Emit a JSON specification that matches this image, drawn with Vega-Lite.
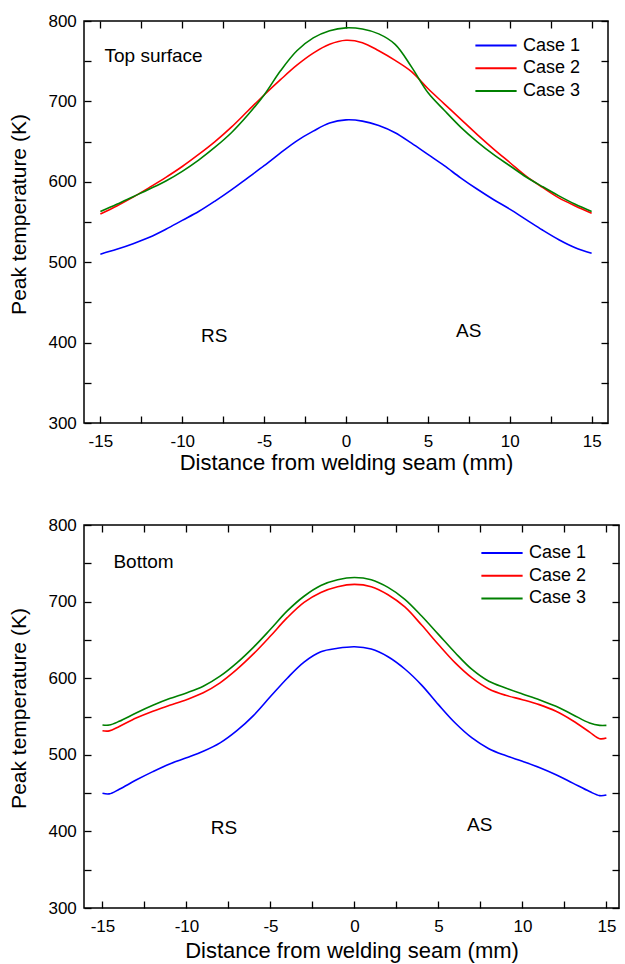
{
  "$schema": "https://vega.github.io/schema/vega-lite/v6.json",
  "padding": {"left": 8, "top": 11, "right": 0, "bottom": 0},
  "spacing": 40,
  "config": {
    "font": "Liberation Sans",
    "view": {"stroke": "black", "strokeWidth": 1.5},
    "axis": {"grid": false, "domain": false, "labelFont": "Liberation Sans", "labelFontSize": 17, "labelColor": "black", "titleFont": "Liberation Sans", "titleFontWeight": "normal", "titleColor": "black", "tickColor": "black", "tickWidth": 1.3, "tickSize": -7, "labelFlush": false, "labelOverlap": false},
    "legend": {"orient": "none", "symbolType": "stroke", "symbolStrokeWidth": 2, "symbolSize": 1700, "labelFont": "Liberation Sans", "labelFontSize": 18, "labelColor": "black", "clipHeight": 19, "rowPadding": 3.7, "padding": 0, "labelOffset": 5, "title": null},
    "text": {"font": "Liberation Sans", "fontSize": 19, "color": "black"}
  },
  "resolve": {"scale": {"color": "independent"}, "legend": {"color": "independent"}},
  "datasets": {
    "top": [
      {"x": -15, "T": 510, "series": "Case 1"}, {"x": -14, "T": 516, "series": "Case 1"}, {"x": -13, "T": 523, "series": "Case 1"}, {"x": -12, "T": 531, "series": "Case 1"}, {"x": -11, "T": 541, "series": "Case 1"}, {"x": -10, "T": 552, "series": "Case 1"}, {"x": -9, "T": 563, "series": "Case 1"}, {"x": -8, "T": 576, "series": "Case 1"}, {"x": -7, "T": 590, "series": "Case 1"}, {"x": -6, "T": 605, "series": "Case 1"}, {"x": -5, "T": 620, "series": "Case 1"}, {"x": -4, "T": 636, "series": "Case 1"}, {"x": -3, "T": 651, "series": "Case 1"}, {"x": -2, "T": 663, "series": "Case 1"}, {"x": -1, "T": 673, "series": "Case 1"}, {"x": 0, "T": 677, "series": "Case 1"}, {"x": 1, "T": 675.5, "series": "Case 1"}, {"x": 2, "T": 670, "series": "Case 1"}, {"x": 3, "T": 661, "series": "Case 1"}, {"x": 4, "T": 648, "series": "Case 1"}, {"x": 5, "T": 634, "series": "Case 1"}, {"x": 6, "T": 620, "series": "Case 1"}, {"x": 7, "T": 605, "series": "Case 1"}, {"x": 8, "T": 591, "series": "Case 1"}, {"x": 9, "T": 578, "series": "Case 1"}, {"x": 10, "T": 566, "series": "Case 1"}, {"x": 11, "T": 553, "series": "Case 1"}, {"x": 12, "T": 540, "series": "Case 1"}, {"x": 13, "T": 528, "series": "Case 1"}, {"x": 14, "T": 518, "series": "Case 1"}, {"x": 15, "T": 511, "series": "Case 1"},
      {"x": -15, "T": 560, "series": "Case 2"}, {"x": -14, "T": 570, "series": "Case 2"}, {"x": -13, "T": 581, "series": "Case 2"}, {"x": -12, "T": 593, "series": "Case 2"}, {"x": -11, "T": 605.5, "series": "Case 2"}, {"x": -10, "T": 619, "series": "Case 2"}, {"x": -9, "T": 634, "series": "Case 2"}, {"x": -8, "T": 650, "series": "Case 2"}, {"x": -7, "T": 668, "series": "Case 2"}, {"x": -6, "T": 688, "series": "Case 2"}, {"x": -5, "T": 708, "series": "Case 2"}, {"x": -4, "T": 727, "series": "Case 2"}, {"x": -3, "T": 745, "series": "Case 2"}, {"x": -2, "T": 760, "series": "Case 2"}, {"x": -1, "T": 771, "series": "Case 2"}, {"x": 0, "T": 776, "series": "Case 2"}, {"x": 1, "T": 773, "series": "Case 2"}, {"x": 2, "T": 763, "series": "Case 2"}, {"x": 3, "T": 751, "series": "Case 2"}, {"x": 4, "T": 737, "series": "Case 2"}, {"x": 5, "T": 716, "series": "Case 2"}, {"x": 6, "T": 697, "series": "Case 2"}, {"x": 7, "T": 678, "series": "Case 2"}, {"x": 8, "T": 659, "series": "Case 2"}, {"x": 9, "T": 641, "series": "Case 2"}, {"x": 10, "T": 624, "series": "Case 2"}, {"x": 11, "T": 607, "series": "Case 2"}, {"x": 12, "T": 593, "series": "Case 2"}, {"x": 13, "T": 580, "series": "Case 2"}, {"x": 14, "T": 570, "series": "Case 2"}, {"x": 15, "T": 561, "series": "Case 2"},
      {"x": -15, "T": 563, "series": "Case 3"}, {"x": -14, "T": 572, "series": "Case 3"}, {"x": -13, "T": 581.5, "series": "Case 3"}, {"x": -12, "T": 591, "series": "Case 3"}, {"x": -11, "T": 601, "series": "Case 3"}, {"x": -10, "T": 613, "series": "Case 3"}, {"x": -9, "T": 627, "series": "Case 3"}, {"x": -8, "T": 643, "series": "Case 3"}, {"x": -7, "T": 661, "series": "Case 3"}, {"x": -6, "T": 683, "series": "Case 3"}, {"x": -5, "T": 708, "series": "Case 3"}, {"x": -4, "T": 738, "series": "Case 3"}, {"x": -3, "T": 763, "series": "Case 3"}, {"x": -2, "T": 779, "series": "Case 3"}, {"x": -1, "T": 788, "series": "Case 3"}, {"x": 0, "T": 791.5, "series": "Case 3"}, {"x": 1, "T": 790, "series": "Case 3"}, {"x": 2, "T": 784, "series": "Case 3"}, {"x": 3, "T": 771, "series": "Case 3"}, {"x": 4, "T": 743, "series": "Case 3"}, {"x": 5, "T": 711, "series": "Case 3"}, {"x": 6, "T": 689, "series": "Case 3"}, {"x": 7, "T": 668, "series": "Case 3"}, {"x": 8, "T": 650, "series": "Case 3"}, {"x": 9, "T": 634, "series": "Case 3"}, {"x": 10, "T": 620, "series": "Case 3"}, {"x": 11, "T": 606, "series": "Case 3"}, {"x": 12, "T": 594, "series": "Case 3"}, {"x": 13, "T": 582.5, "series": "Case 3"}, {"x": 14, "T": 572, "series": "Case 3"}, {"x": 15, "T": 563, "series": "Case 3"}
    ],
    "bottom": [
      {"x": -15, "T": 449.8, "series": "Case 1"}, {"x": -14.6, "T": 449, "series": "Case 1"}, {"x": -14, "T": 455, "series": "Case 1"}, {"x": -13, "T": 467, "series": "Case 1"}, {"x": -12, "T": 478, "series": "Case 1"}, {"x": -11, "T": 488, "series": "Case 1"}, {"x": -10, "T": 496, "series": "Case 1"}, {"x": -9, "T": 504.5, "series": "Case 1"}, {"x": -8, "T": 515.5, "series": "Case 1"}, {"x": -7, "T": 531.5, "series": "Case 1"}, {"x": -6, "T": 551.5, "series": "Case 1"}, {"x": -5, "T": 576, "series": "Case 1"}, {"x": -4, "T": 600, "series": "Case 1"}, {"x": -3, "T": 621, "series": "Case 1"}, {"x": -2, "T": 634.5, "series": "Case 1"}, {"x": -1, "T": 639, "series": "Case 1"}, {"x": 0, "T": 641, "series": "Case 1"}, {"x": 1, "T": 638, "series": "Case 1"}, {"x": 2, "T": 628, "series": "Case 1"}, {"x": 3, "T": 612, "series": "Case 1"}, {"x": 4, "T": 591, "series": "Case 1"}, {"x": 5, "T": 565.5, "series": "Case 1"}, {"x": 6, "T": 541.5, "series": "Case 1"}, {"x": 7, "T": 522, "series": "Case 1"}, {"x": 8, "T": 508, "series": "Case 1"}, {"x": 9, "T": 499, "series": "Case 1"}, {"x": 10, "T": 491.5, "series": "Case 1"}, {"x": 11, "T": 483.5, "series": "Case 1"}, {"x": 12, "T": 474, "series": "Case 1"}, {"x": 13, "T": 463, "series": "Case 1"}, {"x": 14, "T": 452, "series": "Case 1"}, {"x": 14.6, "T": 446.7, "series": "Case 1"}, {"x": 15, "T": 447.5, "series": "Case 1"},
      {"x": -15, "T": 531.4, "series": "Case 2"}, {"x": -14.6, "T": 531.2, "series": "Case 2"}, {"x": -14, "T": 537, "series": "Case 2"}, {"x": -13, "T": 548, "series": "Case 2"}, {"x": -12, "T": 557, "series": "Case 2"}, {"x": -11, "T": 564.6, "series": "Case 2"}, {"x": -10, "T": 572, "series": "Case 2"}, {"x": -9, "T": 581, "series": "Case 2"}, {"x": -8, "T": 594, "series": "Case 2"}, {"x": -7, "T": 611.5, "series": "Case 2"}, {"x": -6, "T": 632, "series": "Case 2"}, {"x": -5, "T": 655, "series": "Case 2"}, {"x": -4, "T": 679, "series": "Case 2"}, {"x": -3, "T": 699, "series": "Case 2"}, {"x": -2, "T": 712, "series": "Case 2"}, {"x": -1, "T": 719.5, "series": "Case 2"}, {"x": 0, "T": 722.5, "series": "Case 2"}, {"x": 1, "T": 719.5, "series": "Case 2"}, {"x": 2, "T": 709, "series": "Case 2"}, {"x": 3, "T": 693, "series": "Case 2"}, {"x": 4, "T": 669.4, "series": "Case 2"}, {"x": 5, "T": 644, "series": "Case 2"}, {"x": 6, "T": 620, "series": "Case 2"}, {"x": 7, "T": 600.4, "series": "Case 2"}, {"x": 8, "T": 586, "series": "Case 2"}, {"x": 9, "T": 577.7, "series": "Case 2"}, {"x": 10, "T": 572, "series": "Case 2"}, {"x": 11, "T": 565.5, "series": "Case 2"}, {"x": 12, "T": 556.8, "series": "Case 2"}, {"x": 13, "T": 544.5, "series": "Case 2"}, {"x": 14, "T": 529.7, "series": "Case 2"}, {"x": 14.6, "T": 521, "series": "Case 2"}, {"x": 15, "T": 521.8, "series": "Case 2"},
      {"x": -15, "T": 539, "series": "Case 3"}, {"x": -14.6, "T": 538.8, "series": "Case 3"}, {"x": -14, "T": 543.7, "series": "Case 3"}, {"x": -13, "T": 554.6, "series": "Case 3"}, {"x": -12, "T": 564.6, "series": "Case 3"}, {"x": -11, "T": 573.4, "series": "Case 3"}, {"x": -10, "T": 580.8, "series": "Case 3"}, {"x": -9, "T": 589.5, "series": "Case 3"}, {"x": -8, "T": 602.6, "series": "Case 3"}, {"x": -7, "T": 620, "series": "Case 3"}, {"x": -6, "T": 640.6, "series": "Case 3"}, {"x": -5, "T": 663.8, "series": "Case 3"}, {"x": -4, "T": 687.8, "series": "Case 3"}, {"x": -3, "T": 707, "series": "Case 3"}, {"x": -2, "T": 721, "series": "Case 3"}, {"x": -1, "T": 728.5, "series": "Case 3"}, {"x": 0, "T": 731.4, "series": "Case 3"}, {"x": 1, "T": 728.5, "series": "Case 3"}, {"x": 2, "T": 718.5, "series": "Case 3"}, {"x": 3, "T": 703, "series": "Case 3"}, {"x": 4, "T": 681.2, "series": "Case 3"}, {"x": 5, "T": 657.2, "series": "Case 3"}, {"x": 6, "T": 633.2, "series": "Case 3"}, {"x": 7, "T": 611.4, "series": "Case 3"}, {"x": 8, "T": 596, "series": "Case 3"}, {"x": 9, "T": 587.3, "series": "Case 3"}, {"x": 10, "T": 579.5, "series": "Case 3"}, {"x": 11, "T": 572, "series": "Case 3"}, {"x": 12, "T": 563.3, "series": "Case 3"}, {"x": 13, "T": 552.4, "series": "Case 3"}, {"x": 14, "T": 541.5, "series": "Case 3"}, {"x": 14.6, "T": 538.4, "series": "Case 3"}, {"x": 15, "T": 538.4, "series": "Case 3"}
    ],
    "topLabels": [
      {"x": -14.75, "y": 756, "label": "Top surface"},
      {"x": -8.85, "y": 408, "label": "RS"},
      {"x": 6.72, "y": 414, "label": "AS"}
    ],
    "bottomLabels": [
      {"x": -14.35, "y": 752, "label": "Bottom"},
      {"x": -8.55, "y": 405, "label": "RS"},
      {"x": 6.7, "y": 408, "label": "AS"}
    ]
  },
  "vconcat": [
    {
      "width": 524,
      "height": 402,
      "layer": [
        {
          "data": {"name": "top"},
          "mark": {"type": "line", "interpolate": "catmull-rom", "strokeWidth": 1.6},
          "encoding": {
            "x": {"field": "x", "type": "quantitative", "scale": {"domain": [-16, 16], "nice": false, "zero": false},
              "axis": {"orient": "bottom", "values": [-15, -12.5, -10, -7.5, -5, -2.5, 0, 2.5, 5, 7.5, 10, 12.5, 15], "labelExpr": "datum.value % 5 === 0 ? '' + datum.value : ''", "encoding": {"ticks": {"y2": {"signal": "datum.value % 5 === 0 ? -7 : -3.5"}}}, "labelPadding": 17.5, "title": "Distance from welding seam (mm)", "titleFontSize": 22, "titlePadding": 3}},
            "y": {"field": "T", "type": "quantitative", "scale": {"domain": [300, 800], "nice": false, "zero": false},
              "axis": {"orient": "left", "values": [300, 350, 400, 450, 500, 550, 600, 650, 700, 750, 800], "labelExpr": "datum.value % 100 === 0 ? '' + datum.value : ''", "encoding": {"ticks": {"x2": {"signal": "datum.value % 100 === 0 ? 7 : 3.5"}}}, "labelPadding": 14.7, "title": "Peak temperature (K)", "titleFontSize": 21, "titlePadding": 18, "titleY": 193}},
            "color": {"field": "series", "type": "nominal", "scale": {"domain": ["Case 1", "Case 2", "Case 3"], "range": ["#0000ff", "#ff0000", "#008000"]},
              "legend": {"legendX": 390, "legendY": 15}}
          }
        },
        {
          "data": {"name": "topLabels"},
          "mark": {"type": "text", "baseline": "middle", "align": "left"},
          "encoding": {
            "x": {"field": "x", "type": "quantitative", "scale": {"domain": [-16, 16], "nice": false, "zero": false},
              "axis": {"orient": "top", "values": [-15, -12.5, -10, -7.5, -5, -2.5, 0, 2.5, 5, 7.5, 10, 12.5, 15], "labels": false, "encoding": {"ticks": {"y2": {"signal": "datum.value % 5 === 0 ? 7 : 3.5"}}}, "title": null}},
            "y": {"field": "y", "type": "quantitative", "scale": {"domain": [300, 800], "nice": false, "zero": false},
              "axis": {"orient": "right", "values": [300, 350, 400, 450, 500, 550, 600, 650, 700, 750, 800], "labels": false, "encoding": {"ticks": {"x2": {"signal": "datum.value % 100 === 0 ? -7 : -3.5"}}}, "title": null}},
            "text": {"field": "label"}
          }
        }
      ],
      "resolve": {"axis": {"x": "independent", "y": "independent"}}
    },
    {
      "width": 535,
      "height": 383,
      "layer": [
        {
          "data": {"name": "bottom"},
          "mark": {"type": "line", "interpolate": "catmull-rom", "strokeWidth": 1.6},
          "encoding": {
            "x": {"field": "x", "type": "quantitative", "scale": {"domain": [-16.1, 15.75], "nice": false, "zero": false},
              "axis": {"orient": "bottom", "values": [-15, -12.5, -10, -7.5, -5, -2.5, 0, 2.5, 5, 7.5, 10, 12.5, 15], "labelExpr": "datum.value % 5 === 0 ? '' + datum.value : ''", "encoding": {"ticks": {"y2": {"signal": "datum.value % 5 === 0 ? -7 : -3.5"}}}, "labelPadding": 17.5, "title": "Distance from welding seam (mm)", "titleFontSize": 22, "titlePadding": 6}},
            "y": {"field": "T", "type": "quantitative", "scale": {"domain": [300, 800], "nice": false, "zero": false},
              "axis": {"orient": "left", "values": [300, 350, 400, 450, 500, 550, 600, 650, 700, 750, 800], "labelExpr": "datum.value % 100 === 0 ? '' + datum.value : ''", "encoding": {"ticks": {"x2": {"signal": "datum.value % 100 === 0 ? 7 : 3.5"}}}, "labelPadding": 14.7, "title": "Peak temperature (K)", "titleFontSize": 21, "titlePadding": 18, "titleY": 183}},
            "color": {"field": "series", "type": "nominal", "scale": {"domain": ["Case 1", "Case 2", "Case 3"], "range": ["#0000ff", "#ff0000", "#008000"]},
              "legend": {"legendX": 396, "legendY": 18.5}}
          }
        },
        {
          "data": {"name": "bottomLabels"},
          "mark": {"type": "text", "baseline": "middle", "align": "left"},
          "encoding": {
            "x": {"field": "x", "type": "quantitative", "scale": {"domain": [-16.1, 15.75], "nice": false, "zero": false},
              "axis": {"orient": "top", "values": [-15, -12.5, -10, -7.5, -5, -2.5, 0, 2.5, 5, 7.5, 10, 12.5, 15], "labels": false, "encoding": {"ticks": {"y2": {"signal": "datum.value % 5 === 0 ? 7 : 3.5"}}}, "title": null}},
            "y": {"field": "y", "type": "quantitative", "scale": {"domain": [300, 800], "nice": false, "zero": false},
              "axis": {"orient": "right", "values": [300, 350, 400, 450, 500, 550, 600, 650, 700, 750, 800], "labels": false, "encoding": {"ticks": {"x2": {"signal": "datum.value % 100 === 0 ? -7 : -3.5"}}}, "title": null}},
            "text": {"field": "label"}
          }
        }
      ],
      "resolve": {"axis": {"x": "independent", "y": "independent"}}
    }
  ]
}
